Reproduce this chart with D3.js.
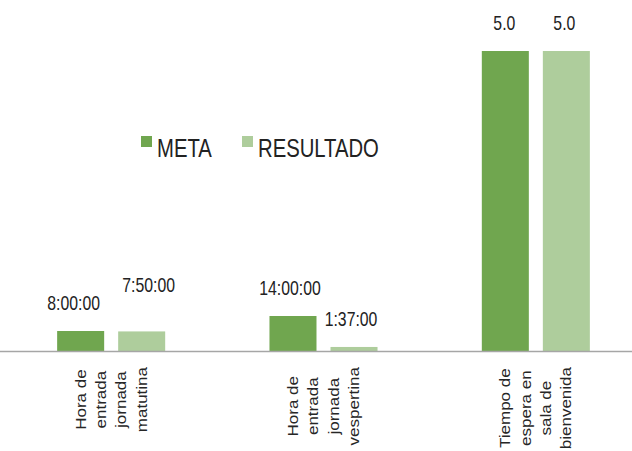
<!DOCTYPE html>
<html>
<head>
<meta charset="utf-8">
<script src="https://cdn.jsdelivr.net/npm/d3@7"></script>
<style>
	body { margin: 0; background: #fff; }
	.num { font-family: "Liberation Sans", Arial, sans-serif; fill: #222; }
	.cat { font-family: "Liberation Sans", Arial, sans-serif; fill: #262626; }
</style>
</head>
<body>
<div class="wrapper"></div>
<script>

// categories (x axis, one line per row of the label)
var categoryLines = [
	["Hora de", "entrada", "jornada", "matutina"],
	["Hora de", "entrada", "jornada", "vespertina"],
	["Tiempo de", "espera en", "sala de", "bienvenida"]
];
var categories = categoryLines.map(function(d) { return d.join(" "); });

var series = ["META", "RESULTADO"];

// values: first two are clock times (as fraction of a day), last is minutes
var metaValues = [8 / 24, 14 / 24, 5.0];
var resultadoValues = [(7 + 50 / 60) / 24, (1 + 37 / 60) / 24, 5.0];

var metaLabels = ["8:00:00", "14:00:00", "5.0"];
var resultadoLabels = ["7:50:00", "1:37:00", "5.0"];

// small hand nudges of the data labels, as in the picture
var labelNudge = {
	META: [[-7, 0], [-3, 0], [-1, 0]],
	RESULTADO: [[7, -18], [-3, 0], [-2, 0]]
};

var colors = { META: "#70a64f", RESULTADO: "#aecd9c" };

var WIDTH = 632,
	HEIGHT = 451,
	BASE_Y = 351,
	TOP_Y = 51,
	NARROW = 0.79; // condensed look of the original font

var svg = d3.select(".wrapper")
	.append("svg")
		.attr("width", WIDTH)
		.attr("height", HEIGHT);

var x0 = d3.scaleBand()
	.domain(categories)
	.range([5, 642]);

var x1 = d3.scaleBand()
	.domain(series)
	.range([0, x0.bandwidth()])
	.paddingInner(0.2295)
	.paddingOuter(0.8545);

var y = d3.scaleLinear()
	.domain([0, 5])
	.range([BASE_Y, TOP_Y]);

var rows = categories.map(function(c, i) {
	return [
		{ cat: c, key: "META", value: metaValues[i], label: metaLabels[i], nudge: labelNudge.META[i] },
		{ cat: c, key: "RESULTADO", value: resultadoValues[i], label: resultadoLabels[i], nudge: labelNudge.RESULTADO[i] }
	];
});

var groups = svg.selectAll("g.group")
	.data(rows)
	.enter()
	.append("g")
		.attr("class", "group")
		.attr("transform", function(d, i) { return "translate(" + x0(categories[i]) + ",0)"; });

groups.selectAll("rect")
	.data(function(d) { return d; })
	.enter()
	.append("rect")
		.attr("x", function(d) { return x1(d.key); })
		.attr("y", function(d) { return y(d.value); })
		.attr("width", x1.bandwidth())
		.attr("height", function(d) { return BASE_Y - y(d.value); })
		.attr("fill", function(d) { return colors[d.key]; });

groups.selectAll("text.num")
	.data(function(d) { return d; })
	.enter()
	.append("text")
		.attr("class", "num")
		.attr("transform", function(d) {
			var tx = x1(d.key) + x1.bandwidth() / 2 + d.nudge[0],
				ty = y(d.value) - 21 + d.nudge[1];
			return "translate(" + tx + "," + ty + ") scale(" + NARROW + ",1)";
		})
		.attr("text-anchor", "middle")
		.style("font-size", "20px")
		.text(function(d) { return d.label; });

// axis line
svg.append("line")
	.attr("x1", 0)
	.attr("x2", WIDTH)
	.attr("y1", BASE_Y + 0.5)
	.attr("y2", BASE_Y + 0.5)
	.attr("stroke", "#a6a6a6")
	.attr("stroke-width", 1.5);

// rotated category labels, lines centred in a block hanging under the axis
var LINE_STEP = 20.3,
	LABEL_TOP = 367;

categoryLines.forEach(function(lines, i) {
	var cx = x0(categories[i]) + x0.bandwidth() / 2;
	var g = svg.append("g").attr("class", "catlabel");
	var texts = g.selectAll("text")
		.data(lines)
		.enter()
		.append("text")
			.attr("class", "cat")
			.attr("text-anchor", "middle")
			.attr("dy", "0.35em")
			.style("font-size", "17px")
			.text(function(d) { return d; });
	var maxLen = d3.max(texts.nodes(), function(n) { return n.getComputedTextLength(); });
	var cy = LABEL_TOP + maxLen / 2;
	texts.attr("transform", function(d, j) {
		var lx = cx + (j - (lines.length - 1) / 2) * LINE_STEP;
		return "translate(" + lx + "," + cy + ") rotate(-90) scale(1,0.85)";
	});
});

// legend
var legendX = [141, 242];
var legend = svg.selectAll("g.legend")
	.data(series)
	.enter()
	.append("g")
		.attr("class", "legend")
		.attr("transform", function(d, i) { return "translate(" + legendX[i] + ",136)"; });

legend.append("rect")
	.attr("width", 11)
	.attr("height", 11)
	.attr("fill", function(d) { return colors[d]; });

legend.append("text")
	.attr("class", "num")
	.attr("transform", "translate(16,21) scale(0.78,1)")
	.style("font-size", "26px")
	.text(function(d) { return d; });

</script>
</body>
</html>
